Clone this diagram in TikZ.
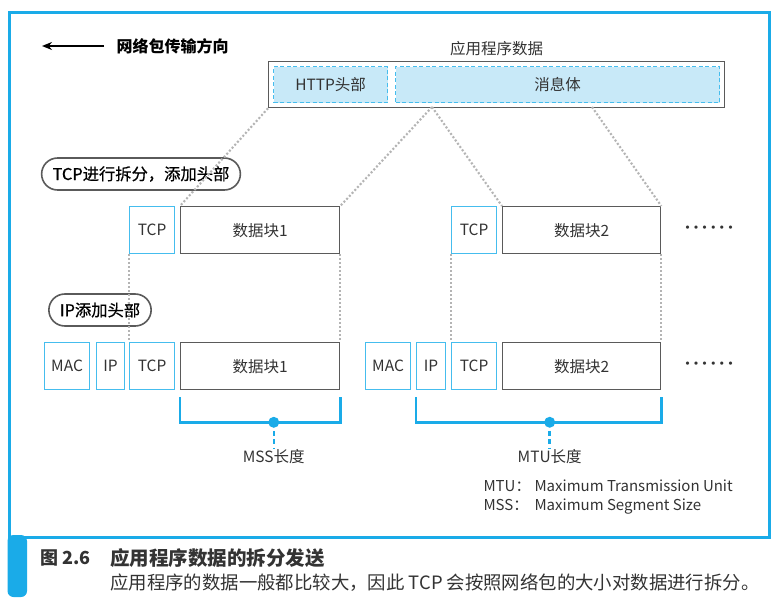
\documentclass[tikz,border=0pt]{standalone}
\usepackage{fontspec}
\setmainfont{Noto Sans CJK SC}
\newfontfamily\pillfont[FakeBold=0.6]{Noto Sans CJK SC}
\usetikzlibrary{arrows.meta, positioning}
\definecolor{fgblue}{HTML}{1AABE8}
\definecolor{fglight}{HTML}{C8E9F8}
\definecolor{fgdash}{HTML}{45BDEE}
\definecolor{fgdark}{HTML}{333333}
\definecolor{fggray}{HTML}{5A5A5A}
\definecolor{fgdot}{HTML}{B4B4B4}
\newcommand\onedot{\makebox[8.6pt]{·}}
\newcommand\dotrow{\onedot\onedot\onedot\onedot\onedot\onedot}

\begin{document}
\begin{tikzpicture}[x=1pt, y=-1pt, font=\fontsize{15.5}{18}\selectfont,
        hdr/.style={draw=fgdash, line width=1.2pt, text=fgdark, minimum height=47pt,
          inner sep=0pt, anchor=north west},
        blk/.style={draw=fggray, line width=1.3pt, text=fgdark, minimum height=47pt,
          inner sep=0pt, anchor=north west},
        area/.style={draw=fgdash, dash pattern=on 4pt off 2.5pt, fill=fglight, line width=1.2pt,
          minimum height=36pt, inner sep=0pt, anchor=north west, text=fgdark},
        pill/.style={draw=fggray, line width=1.6pt, rounded corners=16pt, minimum height=32pt,
          inner xsep=11pt, text=black, font=\fontsize{16.3}{18}\pillfont},
        guide/.style={draw=fgdot, line width=2.1pt, dash pattern=on 2pt off 2pt},
        brk/.style={draw=fgblue, line width=2.8pt},
        arr/.style={-{Stealth[length=10pt,width=8pt]}, draw=black, line width=1.5pt}]
        \useasboundingbox (0,0) rectangle (778,608);
        \fill[white] (0,0) rectangle (778,608);
        % frame and caption bar
        \draw[fgblue, line width=3pt] (9,12) rectangle (769,537);
        \fill[fgblue, rounded corners=6pt] (7.5,535) -- (7.5,597) -- (27,597) -- (27,535) -- cycle;
        % direction
        \node[anchor=west, font=\fontsize{16}{18}\selectfont\bfseries] (dirlbl) at (113,46) {网络包传输方向};
        \coordinate (arrhead) at (42,46);
        \draw[arr] ([xshift=-9pt]dirlbl.west) -- (arrhead);
        % application data
        \node[blk, minimum width=456pt, minimum height=46pt] (app) at (268,61) {};
        \node[above=2pt of app, text=fgdark] (applbl) {应用程序数据};
        \node[area, minimum width=114pt] (http) at (273,66) {HTTP头部};
        \node[area, minimum width=324pt] (body) at (395,66) {消息体};
        \coordinate (cut1) at (432,107);
        \coordinate (cut2) at (592,107);
        % TCP segments
        \node[pill] (tcpstep) at (141,174) {TCP进行拆分，添加头部};
        \node[hdr, minimum width=45pt] (t1) at (129,206) {TCP};
        \node[blk, minimum width=159pt] (b1) at (180,206) {数据块1};
        \node[hdr, minimum width=45pt] (t2) at (451,206) {TCP};
        \node[blk, minimum width=158pt] (b2) at (502,206) {数据块2};
        \node[text=fgdark, inner sep=0pt] (more1) at (709,230) {\dotrow};
        \draw[guide] (app.south west) -- (b1.north west);
        \draw[guide] (cut1) -- (b1.north east);
        \draw[guide] (cut1) -- (b2.north west);
        \draw[guide] (cut2) -- (b2.north east);
        % IP packets
        \node[pill] (ipstep) at (100,310) {IP添加头部};
        \node[hdr, minimum width=45pt] (mac1) at (44,342) {MAC};
        \node[hdr, minimum width=28pt] (ip1) at (96,342) {IP};
        \node[hdr, minimum width=45pt] (tcp1) at (129,342) {TCP};
        \node[blk, minimum width=159pt] (d1) at (180,342) {数据块1};
        \node[hdr, minimum width=45pt] (mac2) at (365,342) {MAC};
        \node[hdr, minimum width=29pt] (ip2) at (416,342) {IP};
        \node[hdr, minimum width=45pt] (tcp2) at (451,342) {TCP};
        \node[blk, minimum width=158pt] (d2) at (502,342) {数据块2};
        \node[text=fgdark, inner sep=0pt] (more2) at (709,366) {\dotrow};
        \draw[guide] (t1.south west) -- (tcp1.north west);
        \draw[guide] (b1.south east) -- (d1.north east);
        \draw[guide] (t2.south west) -- (tcp2.north west);
        \draw[guide] (b2.south east) -- (d2.north east);
        % lengths
        \draw[brk] ([yshift=-7pt]d1.south west) -- ++(0,25) -| ([yshift=-7pt]d1.south east);
        \draw[brk] ([yshift=-7pt]ip2.south west) -- ++(0,25) -| ([yshift=-7pt]d2.south east);
        \path ([yshift=-32pt]d1.south west) -- ([yshift=-32pt]d1.south east) coordinate[pos=0.585] (mss);
        \path ([yshift=-32pt]ip2.south west) -- ([yshift=-32pt]d2.south east) coordinate[pos=0.545] (mtu);
        \fill[fgblue] (mss) circle (5.5pt);
        \fill[fgblue] (mtu) circle (5.5pt);
        \node[below=26pt of mss, inner sep=1pt, text=fgdark] (msslbl) {MSS长度};
        \node[below=26pt of mtu, inner sep=1pt, text=fgdark] (mtulbl) {MTU长度};
        \draw[fgblue, line width=2.4pt, dash pattern=on 5pt off 3.5pt] (mss) -- (msslbl.north);
        \draw[fgblue, line width=2.4pt, dash pattern=on 5pt off 3.5pt] (mtu) -- (mtulbl.north);
        \node[anchor=west, align=left, text=fgdark, font=\fontsize{15}{19.5}\selectfont] (legend) at (480,497)
          {\makebox[51pt][l]{MTU：}Maximum Transmission Unit\\\makebox[51pt][l]{MSS：}Maximum Segment Size};
        % caption
        \node[anchor=west, inner sep=0pt, font=\fontsize{18}{20}\selectfont\bfseries, text=fgdark] (fignum) at (40,558) {图 2.6};
        \node[anchor=west, inner sep=0pt, font=\fontsize{19.5}{21}\selectfont\bfseries, text=fgdark] (figtitle) at (110,558) {应用程序数据的拆分发送};
        \node[anchor=west, inner sep=0pt, font=\fontsize{18.4}{20}\selectfont, text=fgdark] (figtext) at (110,583)
          {应用程序的数据一般都比较大，因此 TCP 会按照网络包的大小对数据进行拆分。};
      \end{tikzpicture}
\end{document}
